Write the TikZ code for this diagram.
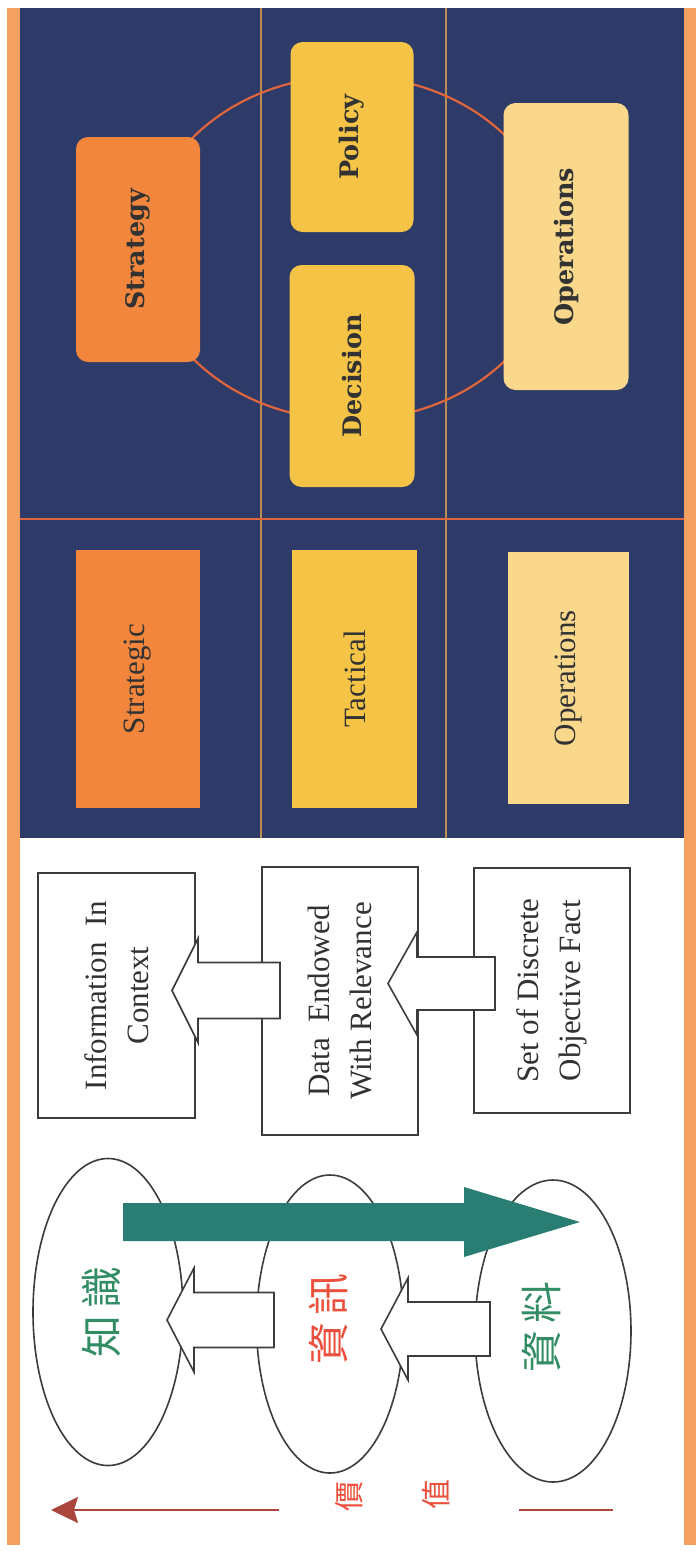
\documentclass[tikz,border=0pt]{standalone}
\usepackage{fontspec}
\setmainfont{Liberation Serif}
\newfontfamily\slabfont{DejaVu Serif}
\newfontfamily\cjkfont{Noto Sans CJK TC}
\usetikzlibrary{shapes.geometric,arrows.meta}
\definecolor{navy}{RGB}{46,58,104}
\definecolor{orangebox}{RGB}{242,134,60}
\definecolor{yellowbox}{RGB}{245,196,70}
\definecolor{peachbox}{RGB}{249,216,140}
\definecolor{band}{RGB}{243,160,96}
\definecolor{ringcol}{RGB}{224,100,60}
\definecolor{divider}{RGB}{190,140,80}
\definecolor{tealarrow}{RGB}{42,125,115}
\definecolor{cjkgreen}{RGB}{50,140,100}
\definecolor{cjkred}{RGB}{235,80,60}
\definecolor{valred}{RGB}{170,70,60}
\definecolor{textdark}{RGB}{50,50,50}
\definecolor{lineblack}{RGB}{60,60,60}
\newcommand\myblockarrow[7]{%
  \filldraw[#1] (#2,#3) -- (#4,{#3-#5}) -- (#4,{#3-#6}) -- (#7,{#3-#6})
    -- (#7,{#3+#6}) -- (#4,{#3+#6}) -- (#4,{#3+#5}) -- cycle;}
\begin{document}
\begin{tikzpicture}[x=1pt,y=-1pt,
  topbox/.style={rotate=90, rounded corners=12pt, inner sep=0pt, text=textdark,
     font=\slabfont\bfseries\fontsize{25.5}{28}\selectfont},
  lowbox/.style={rotate=90, inner sep=0pt, text=textdark,
     font=\fontsize{31}{36}\selectfont},
  wbox/.style={rotate=90, draw=lineblack, line width=2pt, fill=white, inner sep=0pt,
     align=center, text=textdark, font=\fontsize{31}{42}\selectfont},
  ell/.style={ellipse, draw=lineblack, line width=1.6pt, inner sep=0pt},
  blk/.style={draw=lineblack, fill=white, line width=1.6pt, line join=miter},
  cjk/.style={rotate=90, inner sep=0pt, font=\cjkfont\fontsize{42}{44}\selectfont},
  cjksmall/.style={rotate=90, inner sep=0pt, text=cjkred, font=\cjkfont\fontsize{30}{32}\selectfont},
  valline/.style={draw=valred, line width=2.2pt}
]
\useasboundingbox (0,0) rectangle (699,1551);
\fill[white] (0,0) rectangle (699,1551);
% frame bands
\fill[band] (7,8) rectangle (20,1545);
\fill[band] (684,8) rectangle (696,1545);
% navy panel
\fill[navy] (20,8) rectangle (684,838);
\draw[divider, line width=1.2pt] (261,8) -- (261,838);
\draw[divider, line width=1.2pt] (446,8) -- (446,838);
\draw[ringcol, line width=2pt] (20,519) -- (684,519);
% ring
\draw[ringcol, line width=2.2pt] (350,248) ellipse [x radius=205, y radius=172];
% top boxes
\node[topbox, fill=orangebox, minimum width=225pt, minimum height=124pt] (strategy) at (138,249.5) {Strategy};
\node[topbox, fill=yellowbox, minimum width=190pt, minimum height=123pt] (policy) at (352,137) {Policy};
\node[topbox, fill=yellowbox, minimum width=222pt, minimum height=125pt] (decision) at (352,376) {Decision};
\node[topbox, fill=peachbox, minimum width=287pt, minimum height=125pt] (operationsA) at (566,246.5) {Operations};
% lower boxes
\node[lowbox, fill=orangebox, minimum width=258pt, minimum height=124pt] (strategic) at (138,679) {Strategic};
\node[lowbox, fill=yellowbox, minimum width=258pt, minimum height=125pt] (tactical) at (354.5,679) {Tactical};
\node[lowbox, fill=peachbox, minimum width=252pt, minimum height=121pt] (operationsB) at (568.5,678) {Operations};
% white section boxes
\node[wbox, minimum width=245pt, minimum height=157pt] (info) at (116.5,995.5) {Information\ \ In\\Context};
\node[wbox, minimum width=268pt, minimum height=156pt] (data) at (340,1001) {Data\ \ Endowed\\With Relevance};
\node[wbox, minimum width=245pt, minimum height=156pt] (fact) at (552,990.5) {Set of Discrete\\Objective Fact};
\myblockarrow{blk}{172}{990.5}{198}{52}{28}{280}
\myblockarrow{blk}{388}{983.5}{417}{51.5}{26.5}{495}
% ellipses
\node[ell, minimum width=150pt, minimum height=307pt] (knowledge) at (108,1312) {};
\node[ell, minimum width=147pt, minimum height=298pt] (information) at (330,1324) {};
\node[ell, minimum width=156pt, minimum height=302pt] (datael) at (553,1331) {};
\myblockarrow{blk}{167}{1320}{194}{52}{27.5}{274}
\myblockarrow{blk}{381}{1329}{408}{51}{27}{490}
% teal arrow
\myblockarrow{fill=tealarrow, draw=none}{580}{1222}{464}{35}{19}{123}
% CJK labels
\node[cjk, text=cjkgreen] (zhishi) at (101,1312) {知\kern7pt 識};
\node[cjk, text=cjkred] (zixun) at (328,1319) {資\kern7pt 訊};
\node[cjk, text=cjkgreen] (ziliao) at (541,1327) {資\kern7pt 料};
\node[cjksmall] (jia) at (349,1496) {價};
\node[cjksmall] (zhi) at (436,1494) {值};
% value axis
\coordinate (vstart) at (279,1510);
\coordinate (vend) at (51,1510);
\coordinate (vs2) at (519,1510);
\coordinate (ve2) at (613,1510);
\draw[valline, -{Stealth[length=27pt,width=26pt,inset=4pt]}] (vstart) -- (vend);
\draw[valline] (vs2) -- (ve2);
\end{tikzpicture}
\end{document}
